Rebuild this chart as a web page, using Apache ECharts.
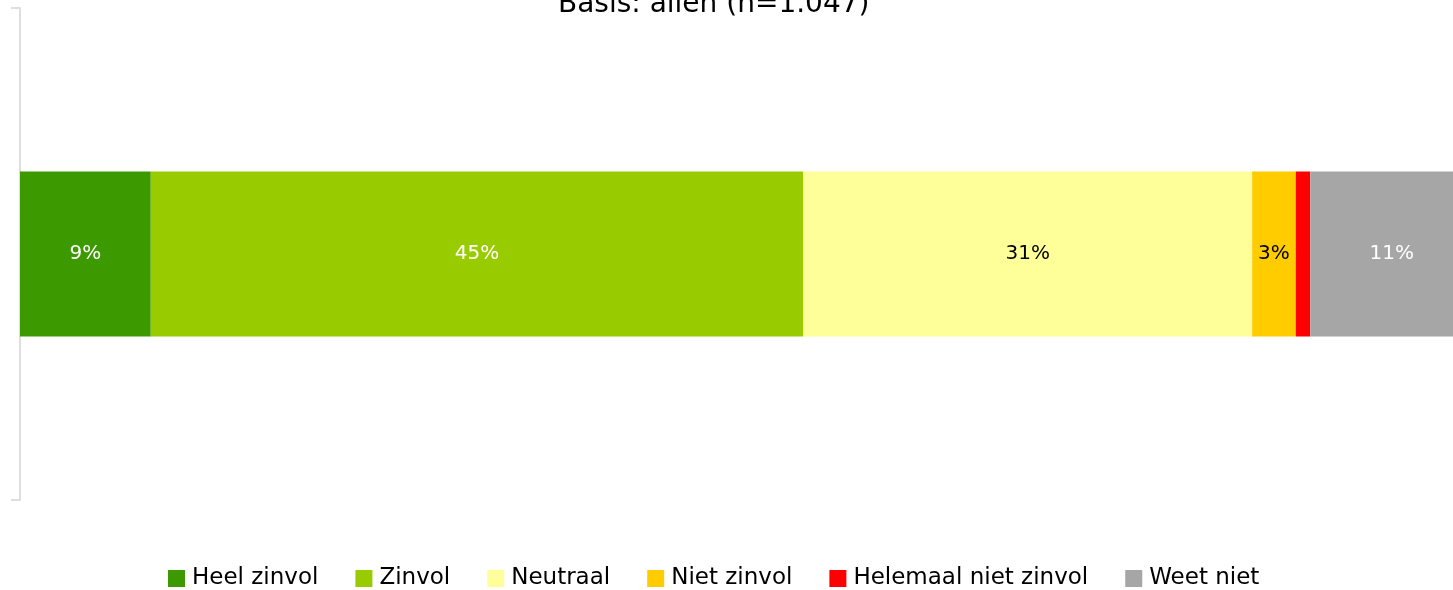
<!DOCTYPE html>
<html>
<head>
<meta charset="utf-8">
<script src="https://cdn.jsdelivr.net/npm/echarts@6/dist/echarts.min.js"></script>
<style>html,body{margin:0;padding:0;background:#fff}#c{width:1453px;height:590px}</style>
</head>
<body>
<div id="c"></div>
<script>
const categories = [''];
const seriesNames = ['Heel zinvol', 'Zinvol', 'Neutraal', 'Niet zinvol', 'Helemaal niet zinvol', 'Weet niet'];
const heelZinvol = [9.0];
const zinvol = [44.9];
const neutraal = [30.9];
const nietZinvol = [3.0];
const helemaalNietZinvol = [1.0];
const weetNiet = [11.2];
const titleText = 'Basis: allen (n=1.047)';

const colors = ['#3d9900', '#99cc00', '#ffff99', '#ffcc00', '#ff0000', '#a6a6a6'];
const labelColors = ['#ffffff', '#ffffff', '#000000', '#000000', '#000000', '#ffffff'];
const showLabel = [true, true, true, true, false, true];
const dataSets = [heelZinvol, zinvol, neutraal, nietZinvol, helemaalNietZinvol, weetNiet];

const chart = echarts.init(document.getElementById('c'), null, {renderer: 'canvas'});
chart.setOption({
  animation: false,
  textStyle: {fontFamily: 'DejaVu Sans'},
  title: {
    text: titleText, left: 553, top: -14,
    textStyle: {fontFamily: 'DejaVu Sans', fontSize: 28, fontWeight: 'normal', color: '#000'}
  },
  legend: {
    data: seriesNames, bottom: -5, left: 163,
    itemWidth: 17, itemHeight: 17, itemGap: 37, icon: 'rect',
    textStyle: {fontFamily: 'DejaVu Sans', fontSize: 23, color: '#000', padding: [0, 0, 0, 2]}
  },
  grid: {left: 20, right: 0, top: 8, bottom: 90, containLabel: false},
  xAxis: {type: 'value', min: 0, max: 98.62, show: false},
  yAxis: {
    type: 'category', data: categories,
    axisLine: {show: true, lineStyle: {color: '#dedede', width: 2}},
    axisTick: {show: true, length: 9, lineStyle: {color: '#dedede', width: 2}},
    axisLabel: {show: false}
  },
  series: seriesNames.map((name, i) => ({
    name: name, type: 'bar', stack: 'total', barWidth: 165, clip: false,
    data: dataSets[i],
    itemStyle: {color: colors[i]},
    label: {
      show: showLabel[i], position: 'inside', color: labelColors[i],
      fontFamily: 'DejaVu Sans', fontSize: 20,
      formatter: p => Math.round(p.value) + '%'
    }
  }))
});
</script>
</body>
</html>
